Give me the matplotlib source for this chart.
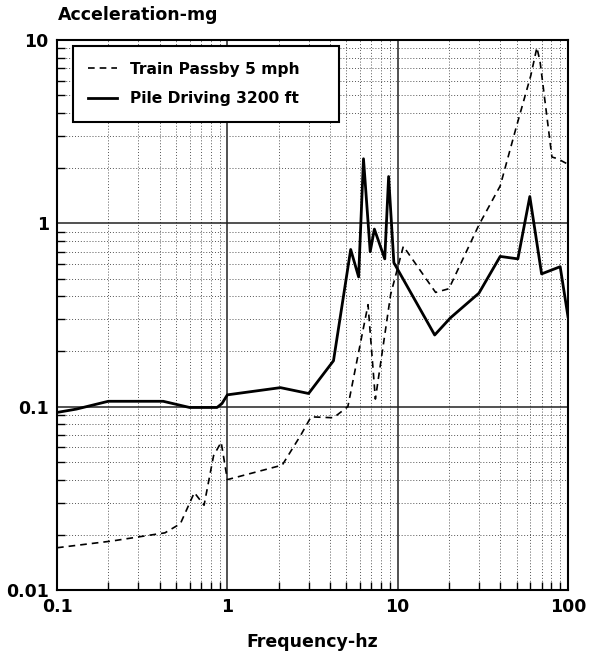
import numpy as np
import matplotlib.pyplot as plt
from matplotlib.ticker import LogLocator, NullFormatter, FixedLocator, FixedFormatter

# Train Passby 5 mph (dashed)
train_f = [0.1, 0.21, 0.43, 0.53, 0.64, 0.73, 0.83, 0.92, 1.0, 2.1, 2.7, 3.1, 4.2, 5.1,
           6.7, 7.4, 9.1, 10.8, 16.7, 20, 30, 40, 49.5, 60.5, 65.7, 68.6, 80.5, 87, 100]
train_a = [0.017, 0.0185, 0.0205, 0.023, 0.034, 0.029, 0.054, 0.064, 0.040, 0.048, 0.070,
           0.088, 0.087, 0.10, 0.36, 0.11, 0.41, 0.75, 0.42, 0.44, 0.98, 1.6, 3.3, 6.4,
           9.1, 7.6, 2.3, 2.25, 2.1]

# Pile Driving 3200 ft (solid)
pile_f = [0.1, 0.13, 0.2, 0.42, 0.6, 0.87, 0.93, 1.0, 2.05, 3.0, 4.2, 5.3, 5.9, 6.3, 6.9,
          7.3, 8.4, 8.85, 9.5, 16.5, 20.4, 30, 40, 50.8, 59.7, 70, 90, 100]
pile_a = [0.093, 0.097, 0.107, 0.107, 0.099, 0.099, 0.104, 0.116, 0.127, 0.118, 0.178, 0.72,
          0.51, 2.25, 0.70, 0.93, 0.64, 1.8, 0.61, 0.246, 0.305, 0.416, 0.66, 0.64, 1.4,
          0.53, 0.58, 0.31]

x_ticks = [0.1, 1, 10, 100]
x_labels = ["0.1", "1", "10", "100"]
y_ticks = [0.01, 0.1, 1, 10]
y_labels = ["0.01", "0.1", "1", "10"]

plt.rcParams['font.family'] = ['DejaVu Sans']
plt.rcParams['font.weight'] = 'bold'

fig = plt.figure(figsize=(5.99, 6.59), dpi=100)
ax = fig.add_axes([0.0952, 0.1047, 0.853, 0.8346])

ax.plot(train_f, train_a, color="black", linestyle=(0, (4, 3)), linewidth=1.2,
        label="Train Passby 5 mph")
ax.plot(pile_f, pile_a, color="black", linestyle="-", linewidth=2.0,
        label="Pile Driving 3200 ft")

ax.set_xscale("log")
ax.set_yscale("log")
ax.set_xlim(0.1, 100)
ax.set_ylim(0.01, 10)

ax.xaxis.set_major_locator(FixedLocator(x_ticks))
ax.xaxis.set_major_formatter(FixedFormatter(x_labels))
ax.yaxis.set_major_locator(FixedLocator(y_ticks))
ax.yaxis.set_major_formatter(FixedFormatter(y_labels))
ax.xaxis.set_minor_locator(LogLocator(base=10, subs=np.arange(2, 10)))
ax.yaxis.set_minor_locator(LogLocator(base=10, subs=np.arange(2, 10)))
ax.xaxis.set_minor_formatter(NullFormatter())
ax.yaxis.set_minor_formatter(NullFormatter())

ax.grid(which="major", color="#222222", linestyle="-", linewidth=1.1)
ax.grid(which="minor", color="#555555", linestyle=(0, (1, 2)), linewidth=0.7)
ax.tick_params(which="both", direction="in", labelsize=12.5)
ax.tick_params(which="major", length=0, pad=6)
ax.tick_params(which="minor", length=6, width=1.0, top=False, right=False)
for s in ax.spines.values():
    s.set_linewidth(1.5)

# legend box spans roughly x 73-339, y 46-121 px
leg = ax.legend(loc="upper left", bbox_to_anchor=(0.031, 0.004, 0.52, 0.985), mode="expand",
                borderaxespad=0, fancybox=False, edgecolor="black", framealpha=1,
                fontsize=11.2, handlelength=1.85, borderpad=1.0, labelspacing=0.95,
                handletextpad=0.85)
leg.get_frame().set_linewidth(1.5)

fig.text(0.097, 0.977, "Acceleration-mg", fontsize=12.5, fontweight="bold", ha="left", va="center")
ax.set_xlabel("Frequency-hz", fontsize=12.5, fontweight="bold", labelpad=12)

fig.savefig("out.png", dpi=100)
